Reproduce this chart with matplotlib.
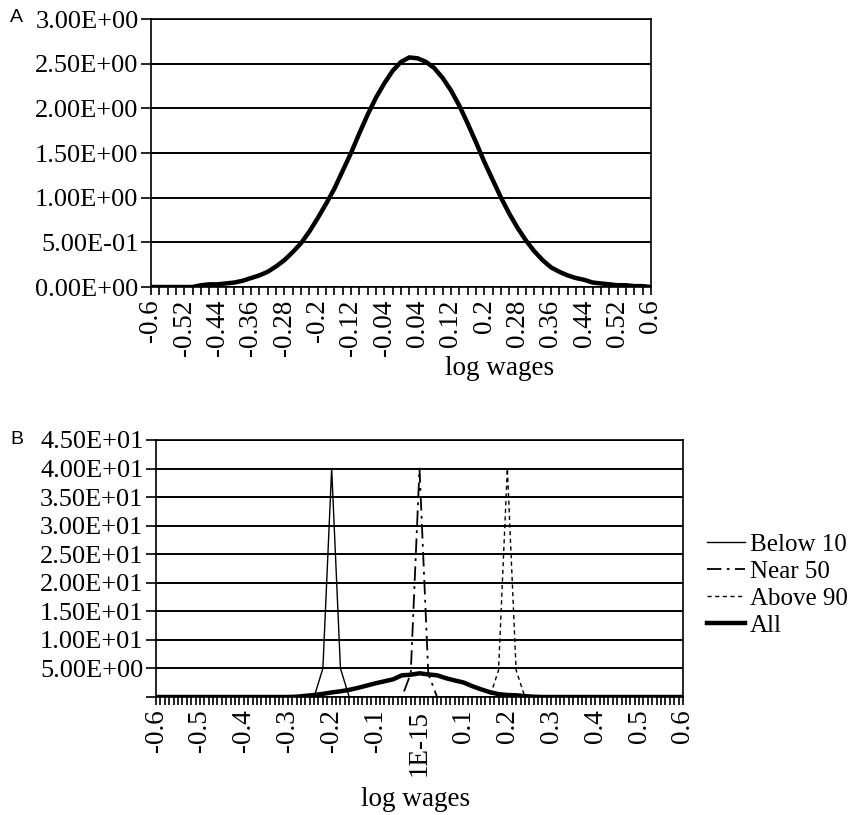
import numpy as np
import matplotlib
matplotlib.use("Agg")
import matplotlib.pyplot as plt

# panel A: density of log wages, points every 0.02
wage_a = np.round(np.arange(-0.6, 0.6001, 0.02), 2)
dens_a = [0.0, 0.0, 0.0, 0.0, 0.0, 0.0, 0.02, 0.03, 0.03, 0.04,
          0.05, 0.07, 0.10, 0.13, 0.17, 0.23, 0.30, 0.39, 0.49, 0.62,
          0.77, 0.93, 1.10, 1.30, 1.50, 1.72, 1.93, 2.12, 2.28, 2.42,
          2.52, 2.57, 2.56, 2.52, 2.45, 2.34, 2.20, 2.03, 1.83, 1.62,
          1.40, 1.20, 1.00, 0.82, 0.66, 0.52, 0.40, 0.30, 0.22, 0.17,
          0.13, 0.10, 0.08, 0.05, 0.04, 0.03, 0.02, 0.02, 0.01, 0.01,
          0.0]
ticklab_a = ["-0.6", "-0.52", "-0.44", "-0.36", "-0.28", "-0.2", "-0.12", "-0.04",
             "0.04", "0.12", "0.2", "0.28", "0.36", "0.44", "0.52", "0.6"]

# panel B: groups, points every 0.02
wage_b = np.round(np.arange(-0.6, 0.6001, 0.02), 2)
below10 = [0.0] * 19 + [5.0, 40.0, 5.0] + [0.0] * 39
near50 = [0.0] * 29 + [4.1, 40.0, 4.1] + [0.0] * 29
above90 = [0.0] * 39 + [4.7, 40.0, 4.7] + [0.0] * 19
all_b = [0.0] * 16 + [0.05, 0.20, 0.35, 0.55, 0.80, 1.00, 1.25, 1.60, 2.00, 2.40,
                      2.75, 3.10, 3.80, 3.90, 4.15, 3.95, 3.80, 3.30, 2.90, 2.55,
                      1.90, 1.35, 0.85, 0.50, 0.35, 0.30, 0.15, 0.05] + [0.0] * 17
ticklab_b = ["-0.6", "-0.5", "-0.4", "-0.3", "-0.2", "-0.1", "1E-15",
             "0.1", "0.2", "0.3", "0.4", "0.5", "0.6"]

plt.rcParams['font.family'] = ['Liberation Serif', 'DejaVu Serif']

W, H = 857, 815
fig = plt.figure(figsize=(W / 100, H / 100), dpi=100)


def box(l, r, t, b):
    return [l / W, 1 - b / H, (r - l) / W, (b - t) / H]


def style(ax):
    ax.yaxis.grid(True, color='black', lw=1.4)
    ax.set_axisbelow(True)
    for s in ax.spines.values():
        s.set_linewidth(1.2)
    ax.tick_params(axis='y', direction='out', length=7, width=1.2, labelsize=19, pad=2)
    ax.tick_params(axis='x', which='both', direction='out', length=6, width=1.2)
    ax.tick_params(axis='x', which='major', labelsize=19.5, labelrotation=90, pad=3)


# ---- panel A
ax1 = fig.add_axes(box(151, 651, 19, 287))
ax1.plot(wage_a, dens_a, color='black', lw=3.2, solid_joinstyle='miter')
ax1.set_xlim(-0.6, 0.6)
ax1.set_ylim(0, 3.0)
ax1.set_yticks(np.arange(0, 3.01, 0.5))
ax1.set_yticklabels(["%.2E" % v for v in np.arange(0, 3.01, 0.5)])
ax1.set_xticks(np.linspace(-0.6, 0.6, len(ticklab_a)))
ax1.set_xticklabels(ticklab_a)
ax1.set_xticks(wage_a, minor=True)
style(ax1)
fig.text(500 / W, 1 - 368 / H, "log wages", fontsize=19.5, ha='center', va='center')

# ---- panel B
ax2 = fig.add_axes(box(156, 683, 440, 697))
ax2.plot(wage_b, below10, color='black', lw=1.0, label="Below 10")
ax2.plot(wage_b, near50, color='black', lw=1.3, dashes=(8, 3, 1.5, 3), label="Near 50")
ax2.plot(wage_b, above90, color='black', lw=1.0, dashes=(3, 2.5), label="Above 90")
ax2.plot(wage_b, all_b, color='black', lw=3.2, label="All")
ax2.set_xlim(-0.6, 0.6)
ax2.set_ylim(0, 45)
yt = np.arange(0, 45.1, 5)
ax2.set_yticks(yt)
ax2.set_yticklabels([""] + ["%.2E" % v for v in yt[1:]])
ax2.set_xticks(np.linspace(-0.6, 0.6, len(ticklab_b)))
ax2.set_xticklabels(ticklab_b)
ax2.set_xticks(np.linspace(-0.6, 0.6, 121), minor=True)
style(ax2)
fig.text(416 / W, 1 - 800 / H, "log wages", fontsize=19.5, ha='center', va='center')
ax2.legend(loc='center left', bbox_to_anchor=((707 - 156) / 527, (697 - 585) / 257),
           frameon=False, fontsize=18, handlelength=1.5, handletextpad=0.2,
           labelspacing=0.18, borderaxespad=0, borderpad=0)

fig.text(10 / W, 1 - 18 / H, "A", family='Liberation Sans', fontsize=14, va='center')
fig.text(10 / W, 1 - 440 / H, "B", family='Liberation Sans', fontsize=14, va='center')

fig.savefig("out.png", dpi=100)
